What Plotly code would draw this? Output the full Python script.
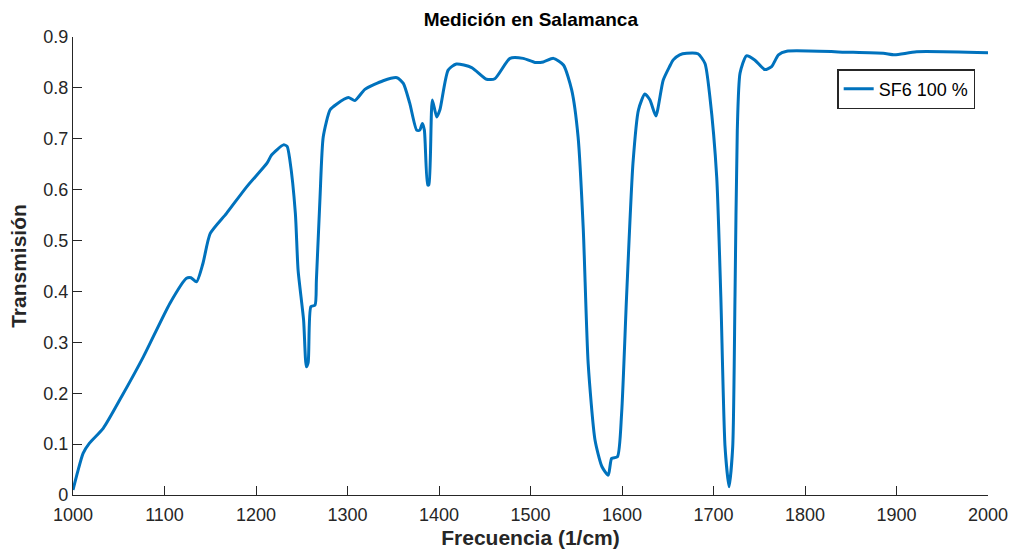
import plotly.graph_objects as go

freq = [1000, 1005, 1011, 1018, 1033, 1053, 1077, 1106, 1124, 1129, 1135, 1142, 1150, 1168, 1190,
        1212, 1217, 1230, 1234, 1237, 1243, 1246, 1252, 1255, 1257, 1260, 1264.5, 1266, 1270, 1273.5,
        1281, 1288, 1301, 1308, 1319, 1339, 1354, 1361, 1368, 1375.6, 1379, 1381.8, 1384, 1387.6, 1389,
        1392.7, 1397.5, 1401, 1410, 1419, 1435.7, 1452, 1461, 1477.6, 1492, 1505, 1514, 1525, 1536,
        1545, 1552, 1557.7, 1563, 1570.5, 1578, 1585, 1588.7, 1595, 1599.6, 1605, 1612, 1618, 1625,
        1630.6, 1637, 1645, 1652, 1656, 1663, 1670.7, 1683, 1690.7, 1696, 1703.5, 1708, 1712.6, 1717,
        1721, 1723.5, 1726, 1729, 1736, 1745, 1756, 1763.5, 1771, 1780, 1849, 1885.6, 1898, 1922, 2000]
trans = [0.01, 0.045, 0.082, 0.102, 0.131, 0.193, 0.272, 0.377, 0.426, 0.427, 0.419, 0.455, 0.514, 0.554, 0.606,
         0.652, 0.668, 0.688, 0.685, 0.658, 0.554, 0.442, 0.344, 0.252, 0.26, 0.37, 0.373, 0.422, 0.586, 0.704,
         0.757, 0.768, 0.781, 0.775, 0.797, 0.814, 0.820, 0.809, 0.770, 0.717, 0.717, 0.730, 0.717, 0.609, 0.61,
         0.776, 0.743, 0.757, 0.835, 0.847, 0.840, 0.817, 0.818, 0.858, 0.858, 0.850, 0.851, 0.858, 0.845,
         0.796, 0.704, 0.521, 0.259, 0.108, 0.056, 0.039, 0.072, 0.075, 0.161, 0.390, 0.652, 0.757, 0.788,
         0.776, 0.745, 0.815, 0.842, 0.855, 0.865, 0.868, 0.867, 0.848, 0.783, 0.625, 0.39, 0.095, 0.016,
         0.095, 0.39, 0.717, 0.829, 0.863, 0.855, 0.836, 0.842, 0.865, 0.872, 0.870, 0.868, 0.865, 0.871, 0.869]

x_ticks = [1000, 1100, 1200, 1300, 1400, 1500, 1600, 1700, 1800, 1900, 2000]
y_ticks = [0, 0.1, 0.2, 0.3, 0.4, 0.5, 0.6, 0.7, 0.8, 0.9]
y_tick_labels = ["0", "0.1", "0.2", "0.3", "0.4", "0.5", "0.6", "0.7", "0.8", "0.9"]

axcol = "#262626"
fig = go.Figure()
fig.add_trace(go.Scatter(x=freq, y=trans, mode="lines", name="SF6 100 %",
                         line=dict(color="#0072BD", width=3, shape="spline", smoothing=0.6)))

fig.update_layout(
    width=1013, height=559,
    margin=dict(l=73, r=25, t=37, b=64, autoexpand=False),
    plot_bgcolor="white", paper_bgcolor="white",
    font=dict(family="Liberation Sans, Arial, sans-serif", color=axcol, size=18),
    title=dict(text="<b>Medición en Salamanca</b>", x=0.524, xanchor="center", y=0.965, yanchor="middle",
               font=dict(size=19, color="black")),
    showlegend=True,
    legend=dict(x=0.986, xanchor="right", y=0.93, yanchor="top", bgcolor="white",
                bordercolor=axcol, borderwidth=1.5, font=dict(size=18, color="black"),
                tracegroupgap=0, itemwidth=30),
)
fig.update_xaxes(range=[1000, 2000], tickvals=x_ticks, ticks="inside", ticklen=9, tickcolor=axcol,
                 tickwidth=1.2, ticklabelstandoff=3, automargin=False,
                 showline=True, linecolor=axcol, linewidth=1.2, showgrid=False, zeroline=False,
                 title=dict(text="<b>Frecuencia (1/cm)</b>", font=dict(size=21, color=axcol), standoff=6))
fig.update_yaxes(range=[0, 0.9], tickvals=y_ticks, ticktext=y_tick_labels, ticks="inside", ticklen=9,
                 tickcolor=axcol, tickwidth=1.2, automargin=False,
                 showline=True, linecolor=axcol, linewidth=1.2, showgrid=False, zeroline=False,
                 title=dict(text="<b>Transmisión</b>", font=dict(size=21, color=axcol), standoff=10))

fig.write_html("out.html")
